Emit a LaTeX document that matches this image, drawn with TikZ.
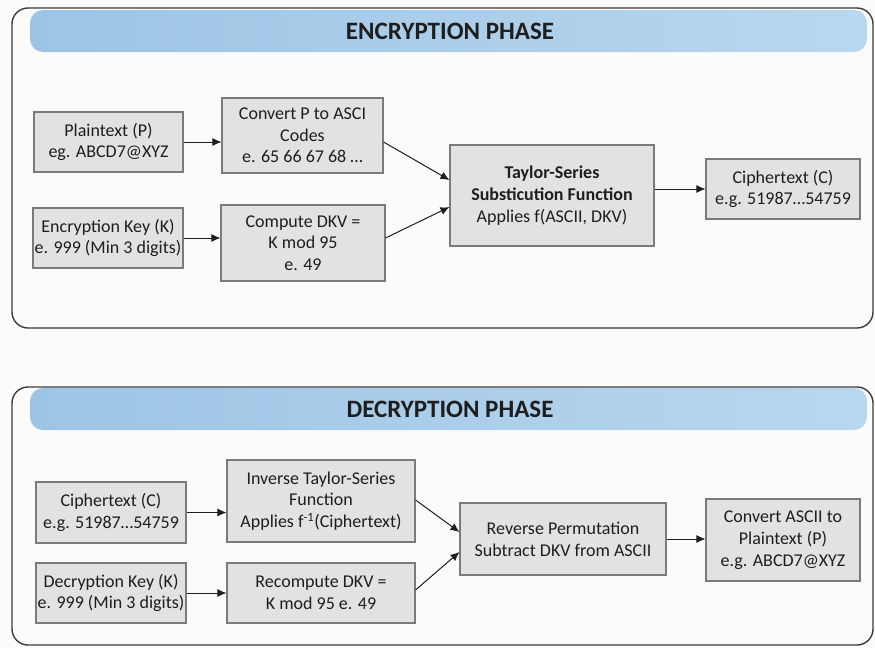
\documentclass[tikz,border=0pt]{standalone}
\usepackage{fontspec}
\setmainfont{Carlito}
\usetikzlibrary{arrows.meta,calc}
\definecolor{pagebg}{HTML}{FBFBFA}
\definecolor{barL}{HTML}{9DC4E5}
\definecolor{barR}{HTML}{B9D7EE}
\definecolor{boxfill}{HTML}{E2E2E2}
\definecolor{boxline}{HTML}{7A7A7A}
\definecolor{frameline}{HTML}{3C3C3C}
\definecolor{txt}{HTML}{1E1E1E}
\tikzset{
  frame/.style={draw=frameline, line width=1.4pt, rounded corners=16pt},
  bar/.style={rounded corners=13pt, left color=barL, right color=barR},
  title/.style={font=\fontsize{25}{30}\selectfont\bfseries, text=txt},
  stepbox/.style={draw=boxline, fill=boxfill, line width=1.1pt, inner sep=0pt,
    align=center, font=\fontsize{18}{21.7}\selectfont, text=txt},
  link/.style={draw=txt, line width=1pt, -{Latex[length=9pt,width=8pt]}}
}
\begin{document}
\begin{tikzpicture}[x=1pt,y=-1pt]
\useasboundingbox (0,0) rectangle (875,648);
\fill[pagebg] (0,0) rectangle (875,648);

% ---------- encryption phase ----------
\draw[frame] (12,8) rectangle (873,328);
\shade[bar] (30,10) rectangle (867,52);
\node[title] (enctitle) at (450,31) {ENCRYPTION PHASE};

\node[stepbox, minimum width=149, minimum height=60] (plain) at (108.5,142)
  {Plaintext (P)\\eg. ABCD7@XYZ};
\node[stepbox, minimum width=150, minimum height=60] (enckey) at (108,238)
  {Encryption Key (K)\\e. 999 (Min 3 digits)};
\node[stepbox, minimum width=161, minimum height=75] (ascii) at (302.5,135.5)
  {Convert P to ASCI\\Codes\\e. 65 66 67 68 \dots};
\node[stepbox, minimum width=164, minimum height=76] (dkv) at (303,243)
  {Compute DKV =\\K mod 95\\e. 49};
\node[stepbox, minimum width=204, minimum height=101] (taylor) at (552,195.5)
  {\textbf{Taylor-Series}\\\textbf{Substicution Function}\\Applies f(ASCII, DKV)};
\node[stepbox, minimum width=154, minimum height=60] (cipher) at (783,189)
  {Ciphertext (C)\\e.g. 51987\dots54759};

\draw[link] (plain.east) -- (ascii.west |- plain.east);
\draw[link] (enckey.east) -- (dkv.west |- enckey.east);
\draw[link] ([yshift=-6.5]ascii.east) -- ([yshift=15.5]taylor.west);
\draw[link] ([yshift=5]dkv.east) -- ([yshift=-11.5]taylor.west);
\draw[link] (taylor.east |- cipher.west) -- (cipher.west);

% ---------- decryption phase ----------
\draw[frame] (12,387) rectangle (873,645);
\shade[bar] (30,388) rectangle (867,430);
\node[title] (dectitle) at (450,409) {DECRYPTION PHASE};

\node[stepbox, minimum width=150, minimum height=61] (cipherin) at (111,512.5)
  {Ciphertext (C)\\e.g. 51987\dots54759};
\node[stepbox, minimum width=150, minimum height=60] (deckey) at (111,593)
  {Decryption Key (K)\\e. 999 (Min 3 digits)};
\node[stepbox, minimum width=188, minimum height=82] (inverse) at (321,501)
  {Inverse Taylor-Series\\Function\\Applies f\textsuperscript{-1}(Ciphertext)};
\node[stepbox, minimum width=188, minimum height=60] (recomp) at (321,593)
  {Recompute DKV =\\K mod 95 e. 49};
\node[stepbox, minimum width=206, minimum height=72] (reverse) at (563,539)
  {Reverse Permutation\\Subtract DKV from ASCII};
\node[stepbox, minimum width=154, minimum height=82] (plainout) at (783,540)
  {Convert ASCII to\\Plaintext (P)\\e.g. ABCD7@XYZ};

\draw[link] (cipherin.east) -- (inverse.west |- cipherin.east);
\draw[link] (deckey.east) -- (recomp.west |- deckey.east);
\draw[link] ([yshift=1]inverse.east) -- ([yshift=7]reverse.west);
\draw[link] ([yshift=3]recomp.east) -- ([yshift=-13]reverse.west);
\draw[link] (reverse.east) -- (plainout.west |- reverse.east);
\end{tikzpicture}
\end{document}
